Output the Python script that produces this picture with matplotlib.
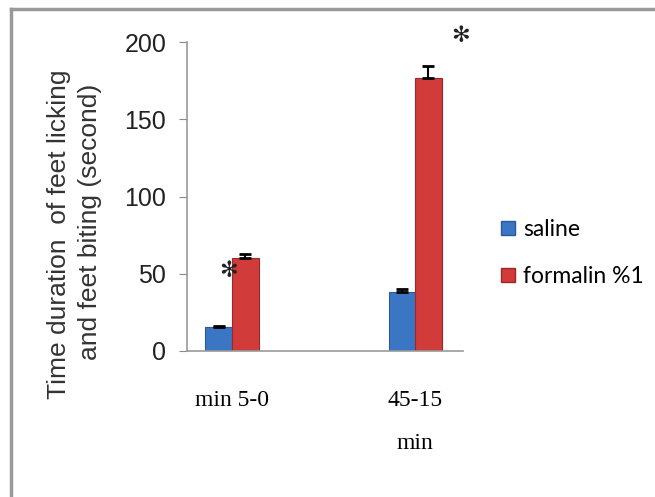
import numpy as np
import matplotlib.pyplot as plt
from matplotlib.lines import Line2D

# data
groups = ['min 5-0', '45-15\nmin']
saline = [15.5, 38.5]
saline_err = [1.0, 1.5]
formalin = [60.5, 176.5]
formalin_err = [2.5, 8.0]
series_names = ['saline', 'formalin %1']
star_pos = [(-0.02, 52), (1.25, 204)]

blue = '#3a76c4'
red = '#d13b3a'

fig = plt.figure(figsize=(6.55, 4.97), dpi=100)
ax = fig.add_axes([187/655, 1 - 351/497, 276/655, 309/497])

x = np.arange(len(groups))
w = 0.145
ax.bar(x - w/2, saline, w, color=blue, edgecolor='#2a5a9a', linewidth=0.8,
       yerr=[np.zeros(len(saline)), saline_err],
       error_kw=dict(ecolor='black', capsize=4, capthick=2, elinewidth=1.5),
       label=series_names[0])
ax.bar(x + w/2, formalin, w, color=red, edgecolor='#9a2a2a', linewidth=0.8,
       yerr=[np.zeros(len(formalin)), formalin_err],
       error_kw=dict(ecolor='black', capsize=4, capthick=2, elinewidth=1.5),
       label=series_names[1])

for sx, sy in star_pos:
    ax.text(sx, sy, '✻', ha='center', va='center', fontsize=16,
            fontweight='bold', color='#222222', clip_on=False)

ax.set_xlim(-0.246, 1.262)
ax.set_ylim(0, 200)
ax.set_yticks([0, 50, 100, 150, 200])
ax.set_xticks(x)
ax.set_xticklabels(groups, fontfamily='Liberation Serif', fontsize=17,
                   linespacing=2.4)
for lbl in ax.get_yticklabels():
    lbl.set_fontfamily('Liberation Sans')
    lbl.set_fontsize(18)
    lbl.set_color('#222222')

ax.tick_params(axis='x', length=0, pad=28)
ax.tick_params(axis='y', direction='out', length=6, width=0.8,
               color='#888888', pad=9)
for side in ['top', 'right']:
    ax.spines[side].set_visible(False)
ax.spines['left'].set_color('#999999')
ax.spines['bottom'].set_color('#999999')
ax.spines['left'].set_linewidth(1.2)
ax.spines['bottom'].set_linewidth(1.2)

# y label, two lines rotated
fig.text(59/655, 1 - 234/497, 'Time duration  of feet licking', rotation=90,
         ha='center', va='center', fontsize=19, family='Liberation Sans',
         color='#333333')
fig.text(90/655, 1 - 222/497, 'and feet biting (second)', rotation=90,
         ha='center', va='center', fontsize=19, family='Liberation Sans',
         color='#333333')

# legend
handles = [Line2D([], [], marker='s', linestyle='none', markersize=9.5,
                  markerfacecolor=c, markeredgecolor=e)
           for c, e in [(blue, '#2a5a9a'), (red, '#9a2a2a')]]
fig.legend(handles, series_names, loc='upper left',
           bbox_to_anchor=(500/655, 1 - 219/497), frameon=False,
           prop={'family': 'Lato', 'size': 16.5}, handlelength=0.7,
           handletextpad=0.3, labelspacing=1.15, borderpad=0, borderaxespad=0)

# grey frame lines (top and left only visible)
fig.add_artist(Line2D([11/655, 1], [1 - 9/497, 1 - 9/497], color='#999999',
                      linewidth=2.5, transform=fig.transFigure))
fig.add_artist(Line2D([11/655, 11/655], [0, 1 - 9/497], color='#999999',
                      linewidth=2.5, transform=fig.transFigure))

fig.savefig('out.png', dpi=100)
